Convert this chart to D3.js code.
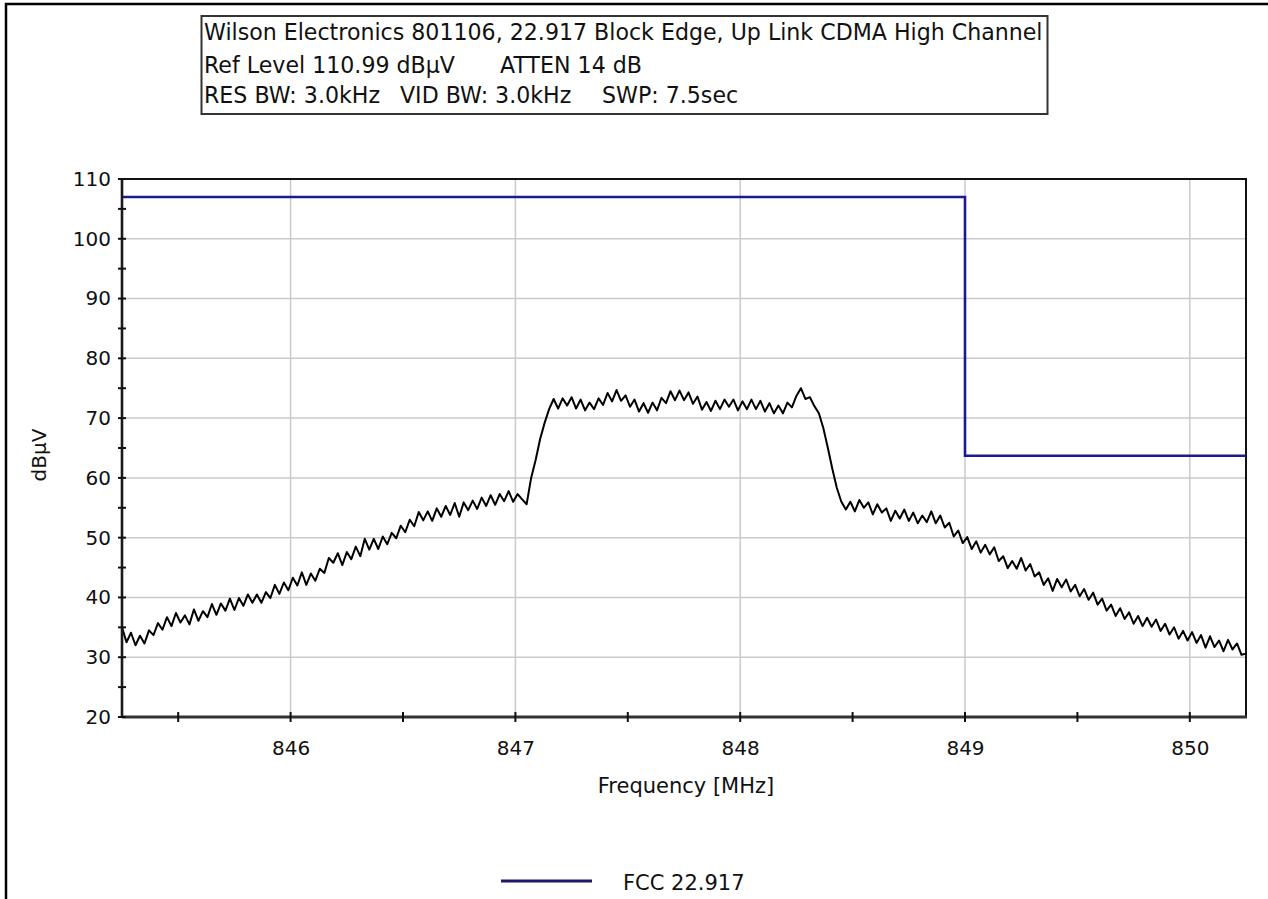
<!DOCTYPE html>
<html><head><meta charset="utf-8">
<script src="https://cdn.jsdelivr.net/npm/d3@7"></script>
<style>body{margin:0;background:#fff}svg{display:block}text{font-family:"DejaVu Sans",sans-serif;fill:#111}</style>
</head><body><svg id="c" width="1268" height="899"></svg>
<script>
// ---- data ----
const titleLines = ["Wilson Electronics 801106, 22.917 Block Edge, Up Link CDMA High Channel",
  "Ref Level 110.99 dBµV", "ATTEN 14 dB", "RES BW: 3.0kHz", "VID BW: 3.0kHz", "SWP: 7.5sec"];
const freqStart = 845.25, freqStop = 850.25;
const xTicks = [846, 847, 848, 849, 850];
const xMinorTicks = [845.5, 846.5, 847.5, 848.5, 849.5];
const yTicks = [20, 30, 40, 50, 60, 70, 80, 90, 100, 110];
const yMinorTicks = [25, 35, 45, 55, 65, 75, 85, 95, 105];
const limitFreq = [845.25, 849, 849, 850.25];
const limitLevel = [107, 107, 63.7, 63.7];
const legendLabel = "FCC 22.917";
const traceLevel = [
35.0,32.5,34.1,32.0,33.6,32.3,34.5,33.7,35.7,34.6,36.7,35.2,37.4,35.8,37.0,35.5,38.0,36.1,37.7,36.7,
38.9,37.1,39.0,37.8,39.8,37.9,39.9,38.6,40.5,39.1,40.5,39.1,40.9,39.9,42.1,40.6,42.5,41.2,43.3,42.0,
44.2,42.1,44.0,42.8,44.8,44.1,46.6,45.8,47.4,45.4,47.6,46.4,48.5,46.9,49.8,48.0,49.8,48.1,50.2,48.9,
50.8,49.9,52.0,50.9,53.0,51.9,54.3,52.9,54.4,52.8,54.9,53.5,55.3,53.8,55.8,53.5,55.9,54.6,56.2,54.8,
56.7,55.3,57.1,55.5,57.3,56.1,57.8,56.0,57.3,56.4,55.6,60.0,63.0,66.5,69.2,71.5,73.2,71.6,73.3,72.1,
73.5,71.6,73.1,71.3,72.6,71.5,73.3,72.2,74.2,72.8,74.7,72.9,73.8,71.9,73.1,71.1,72.5,70.9,72.6,71.3,
73.4,72.5,74.5,73.0,74.6,73.0,74.3,72.4,73.6,71.4,72.7,71.2,72.9,71.5,73.1,71.9,73.1,71.3,72.8,71.5,
73.1,71.5,72.9,71.1,72.5,70.8,72.1,70.8,72.6,71.8,73.7,75.0,73.2,73.5,72.0,70.8,68.3,65.0,61.5,58.3,
56.0,54.7,56.0,54.4,56.3,55.0,55.9,53.9,55.6,54.2,54.9,52.8,54.5,53.2,54.7,52.8,54.2,52.4,53.7,52.6,
54.4,52.4,53.7,51.7,52.5,50.2,51.2,49.1,50.1,48.1,49.4,47.5,48.8,47.2,48.4,46.1,46.9,44.9,46.1,44.8,
46.6,44.5,45.6,43.5,44.2,42.1,43.2,41.1,43.1,41.7,43.0,41.0,42.1,40.2,41.4,39.6,40.8,38.8,39.8,37.8,
38.8,36.9,38.2,36.4,37.5,35.6,36.9,35.2,36.6,35.1,36.3,34.4,35.6,33.8,35.0,33.1,34.4,32.8,34.2,32.4,
33.7,31.6,33.5,31.7,32.8,31.0,32.9,31.3,32.3,30.4,30.6];
const traceStep = (freqStop - freqStart) / (traceLevel.length - 1);
const trace = traceLevel.map((v, i) => ({f: freqStart + i * traceStep, v}));
const limit = limitFreq.map((f, i) => ({f, v: limitLevel[i]}));

// ---- layout ----
const svg = d3.select("#c");
const L = 122, R = 1246, T = 179, B = 717;
const x = d3.scaleLinear().domain([freqStart, freqStop]).range([L, R]);
const y = d3.scaleLinear().domain([20, 110]).range([B, T]);

// outer frame (left + top)
svg.append("path").attr("d", "M6,899V4H1268").attr("fill", "none").attr("stroke", "#000").attr("stroke-width", 2.5);

// title box
svg.append("rect").attr("x", 201.5).attr("y", 16).attr("width", 846).attr("height", 98)
  .attr("fill", "#fff").attr("stroke", "#333").attr("stroke-width", 2);
const t1 = svg.append("text").attr("x", 204).attr("y", 40).attr("font-size", 19).text(titleLines[0]);
const w = t1.node().getComputedTextLength();
const fs = 19 * 839 / w;
t1.attr("font-size", fs);
const lines = [[titleLines[1], 204, 73], [titleLines[2], 500, 73], [titleLines[3], 204, 103], [titleLines[4], 400, 103], [titleLines[5], 602, 103]];
lines.forEach(d => svg.append("text").attr("x", d[1]).attr("y", d[2]).attr("font-size", fs).text(d[0]));

// grid
const g = svg.append("g");
g.selectAll(".gx").data(xTicks).join("line").attr("x1", d => x(d)).attr("x2", d => x(d))
  .attr("y1", T).attr("y2", B).attr("stroke", "#cacaca").attr("stroke-width", 1.5);
g.selectAll(".gy").data(yTicks.filter(d => d > 20 && d < 110)).join("line").attr("y1", d => y(d)).attr("y2", d => y(d))
  .attr("x1", L).attr("x2", R).attr("stroke", "#cacaca").attr("stroke-width", 1.5);

// frame top/right
svg.append("path").attr("d", `M${L},${T}H${R}V${B}`).attr("fill", "none").attr("stroke", "#111").attr("stroke-width", 2);

// limit line
const line = d3.line().x(d => x(d.f)).y(d => y(d.v));
svg.append("path").datum(limit).attr("d", line).attr("fill", "none").attr("stroke", "#1a1a94").attr("stroke-width", 2.6);

// trace
svg.append("path").datum(trace).attr("d", line).attr("fill", "none").attr("stroke", "#000").attr("stroke-width", 2).attr("stroke-linejoin", "round");

// axes
const yAxis = svg.append("g").attr("transform", `translate(${L},0)`)
  .call(d3.axisLeft(y).tickValues(yTicks).tickSize(0).tickPadding(11).tickFormat(d3.format("d")));
yAxis.select(".domain").remove();
yAxis.selectAll("text").attr("font-size", 20).attr("font-family", "DejaVu Sans, sans-serif").attr("fill", "#111");
const xAxis = svg.append("g").attr("transform", `translate(0,${B})`)
  .call(d3.axisBottom(x).tickValues(xTicks).tickSize(0).tickPadding(24).tickFormat(d3.format("d")));
xAxis.select(".domain").remove();
xAxis.selectAll("text").attr("font-size", 20).attr("font-family", "DejaVu Sans, sans-serif").attr("fill", "#111");

svg.append("line").attr("x1", L).attr("x2", L).attr("y1", T - 1).attr("y2", B + 1).attr("stroke", "#1a1a1a").attr("stroke-width", 2.6);
svg.append("line").attr("x1", L).attr("x2", R + 1).attr("y1", B).attr("y2", B).attr("stroke", "#333").attr("stroke-width", 3);

// ticks crossing axes
svg.selectAll(".ty").data(yTicks.concat(yMinorTicks)).join("line").attr("x1", L - 4).attr("x2", L + 4)
  .attr("y1", d => y(d)).attr("y2", d => y(d)).attr("stroke", "#111").attr("stroke-width", 2);
svg.selectAll(".tx").data(xTicks.concat(xMinorTicks)).join("line").attr("y1", B - 5).attr("y2", B + 5)
  .attr("x1", d => x(d)).attr("x2", d => x(d)).attr("stroke", "#111").attr("stroke-width", 2);

// axis titles
svg.append("text").attr("x", 686).attr("y", 793).attr("text-anchor", "middle").attr("font-size", 21).text("Frequency [MHz]");
svg.append("text").attr("transform", "translate(46,455) rotate(-90)").attr("text-anchor", "middle").attr("font-size", 20).text("dBµV");

// legend
svg.append("line").attr("x1", 501).attr("x2", 592).attr("y1", 881).attr("y2", 881).attr("stroke", "#1e1866").attr("stroke-width", 3);
svg.append("text").attr("x", 623).attr("y", 890).attr("font-size", 21).text(legendLabel);
</script></body></html>
